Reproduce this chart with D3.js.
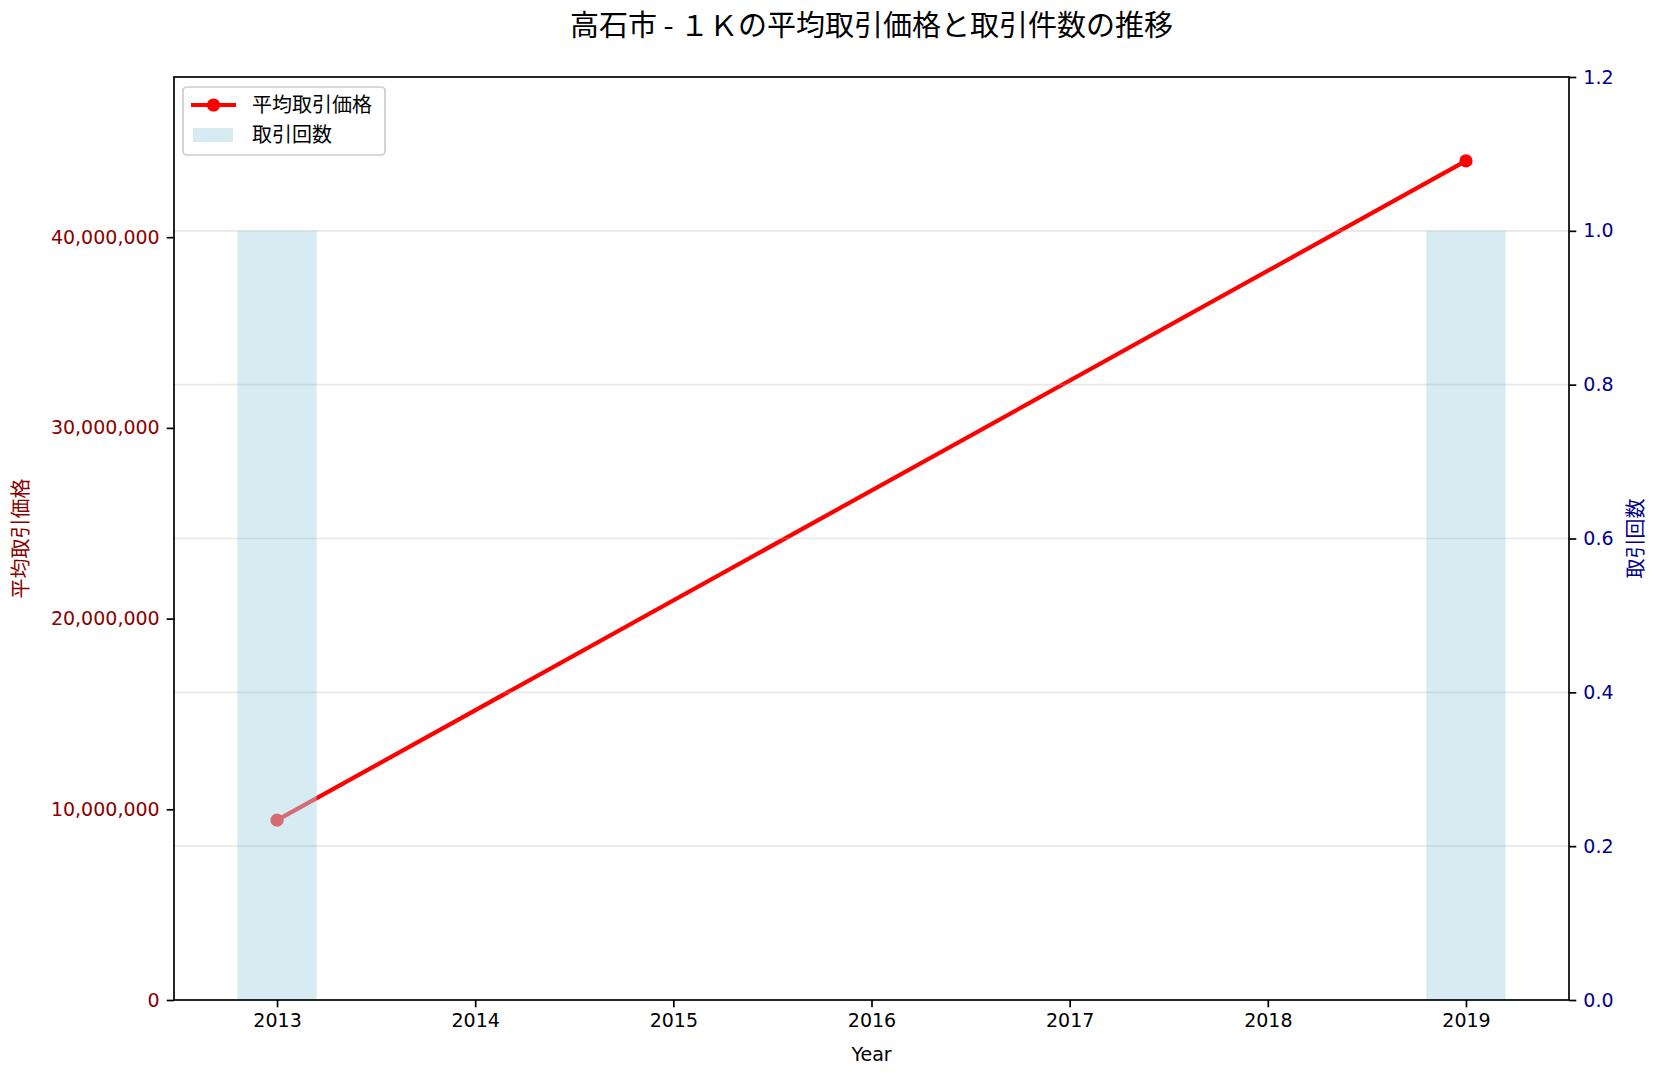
<!DOCTYPE html>
<html>
<head>
<meta charset="utf-8">
<script src="https://cdn.jsdelivr.net/npm/d3@7"></script>
<style>
  html, body { margin: 0; padding: 0; background: #fff; }
  svg { display: block; font-family: "Noto Sans CJK JP", "Noto Sans", sans-serif; }
</style>
</head>
<body>
<svg id="chart" width="1658" height="1079"></svg>
<script>
// ---- data ----
const years = [2013, 2019];
const avgPrice = [9430000, 44000000];
const counts = [1, 1];
const xTicks = [2013, 2014, 2015, 2016, 2017, 2018, 2019];
const leftTicks = [0, 10000000, 20000000, 30000000, 40000000];
const rightTicks = [0, 0.2, 0.4, 0.6, 0.8, 1.0, 1.2];
const titleText = "高石市 - １Ｋの平均取引価格と取引件数の推移";
const legendLabels = ["平均取引価格", "取引回数"];

// ---- layout ----
const W = 1658, H = 1079;
const m = { left: 174, right: 1569, top: 77, bottom: 1000 };
const svg = d3.select("#chart");

const x = d3.scaleLinear().domain([2012.48, 2019.52]).range([m.left, m.right]);
const yL = d3.scaleLinear().domain([0, d3.max(avgPrice) * 1.1]).range([m.bottom, m.top]);
const yR = d3.scaleLinear().domain([0, 1.2]).range([m.bottom, m.top]);

const red = "#ff0000";
const barColor = "#ADD8E6";
const darkRed = "#8B0000";
const darkBlue = "#00008B";
const fs = 20;
const tickFont = "'DejaVu Sans', sans-serif";
const tfs = 19;

// ---- line (primary axis, drawn first) ----
const line = d3.line().x((d, i) => x(years[i])).y(d => yL(d));
svg.append("path")
  .datum(avgPrice)
  .attr("d", line)
  .attr("fill", "none")
  .attr("stroke", red)
  .attr("stroke-width", 4.2);
svg.selectAll("circle.pt").data(avgPrice).enter().append("circle")
  .attr("class", "pt")
  .attr("cx", (d, i) => x(years[i]))
  .attr("cy", d => yL(d))
  .attr("r", 6.6)
  .attr("fill", red);

// ---- bars (secondary axis) ----
const bw = 0.4;
svg.selectAll("rect.bar").data(counts).enter().append("rect")
  .attr("class", "bar")
  .attr("x", (d, i) => x(years[i] - bw / 2))
  .attr("width", (d, i) => x(years[i] + bw / 2) - x(years[i] - bw / 2))
  .attr("y", d => yR(d))
  .attr("height", d => yR(0) - yR(d))
  .attr("fill", barColor)
  .attr("fill-opacity", 0.5);

// ---- grid (secondary axis) ----
svg.append("g").selectAll("line").data(rightTicks.filter(t => t > 0 && t < 1.2)).enter().append("line")
  .attr("x1", m.left).attr("x2", m.right)
  .attr("y1", d => yR(d)).attr("y2", d => yR(d))
  .attr("stroke", "#b0b0b0").attr("stroke-opacity", 0.3).attr("stroke-width", 1.7);

// ---- axes ----
function styleAxis(g, color) {
  g.select(".domain").remove();
  g.selectAll(".tick line").attr("stroke", "#000").attr("stroke-width", 1.7);
  g.selectAll(".tick text").attr("fill", color).style("font-size", tfs + "px")
    .style("font-family", tickFont);
}
const xAxis = svg.append("g").attr("transform", `translate(0,${m.bottom})`)
  .call(d3.axisBottom(x).tickValues(xTicks).tickFormat(d3.format("d")).tickSize(7.3).tickPadding(6));
styleAxis(xAxis, "#000");

const yAxisL = svg.append("g").attr("transform", `translate(${m.left},0)`)
  .call(d3.axisLeft(yL).tickValues(leftTicks).tickFormat(d3.format(",")).tickSize(7.3).tickPadding(7));
styleAxis(yAxisL, darkRed);

const yAxisR = svg.append("g").attr("transform", `translate(${m.right},0)`)
  .call(d3.axisRight(yR).tickValues(rightTicks).tickFormat(d3.format(".1f")).tickSize(7.3).tickPadding(7));
styleAxis(yAxisR, darkBlue);

// frame
svg.append("rect")
  .attr("x", m.left).attr("y", m.top)
  .attr("width", m.right - m.left).attr("height", m.bottom - m.top)
  .attr("fill", "none").attr("stroke", "#000").attr("stroke-width", 1.7);

// ---- labels ----
svg.append("text")
  .attr("x", (m.left + m.right) / 2).attr("y", 36)
  .attr("text-anchor", "middle")
  .style("font-size", "29px")
  .attr("fill", "#000")
  .text(titleText);

svg.append("text")
  .attr("x", (m.left + m.right) / 2).attr("y", 1061)
  .attr("text-anchor", "middle")
  .style("font-size", tfs + "px")
  .style("font-family", tickFont)
  .attr("fill", "#000")
  .text("Year");

svg.append("text")
  .attr("transform", `translate(28,${(m.top + m.bottom) / 2}) rotate(-90)`)
  .attr("text-anchor", "middle")
  .style("font-size", fs + "px")
  .attr("fill", darkRed)
  .text(legendLabels[0]);

svg.append("text")
  .attr("transform", `translate(1625,${(m.top + m.bottom) / 2}) rotate(-90)`)
  .attr("text-anchor", "middle")
  .attr("dominant-baseline", "hanging")
  .style("font-size", fs + "px")
  .attr("fill", darkBlue)
  .text(legendLabels[1]);

// ---- legend ----
const lg = svg.append("g");
lg.append("rect")
  .attr("x", 183).attr("y", 87).attr("width", 202).attr("height", 68)
  .attr("rx", 4).attr("ry", 4)
  .attr("fill", "#fff").attr("fill-opacity", 0.8)
  .attr("stroke", "#cccccc").attr("stroke-width", 1.7);
lg.append("line")
  .attr("x1", 191).attr("x2", 236).attr("y1", 105).attr("y2", 105)
  .attr("stroke", red).attr("stroke-width", 4.2);
lg.append("circle").attr("cx", 213.5).attr("cy", 105).attr("r", 6.6).attr("fill", red);
lg.append("rect")
  .attr("x", 193).attr("y", 128).attr("width", 40).attr("height", 14)
  .attr("fill", barColor).attr("fill-opacity", 0.5);
lg.append("text").attr("x", 252).attr("y", 105).attr("dy", "0.35em")
  .style("font-size", fs + "px").attr("fill", "#000").text(legendLabels[0]);
lg.append("text").attr("x", 252).attr("y", 135).attr("dy", "0.35em")
  .style("font-size", fs + "px").attr("fill", "#000").text(legendLabels[1]);
</script>
</body>
</html>
